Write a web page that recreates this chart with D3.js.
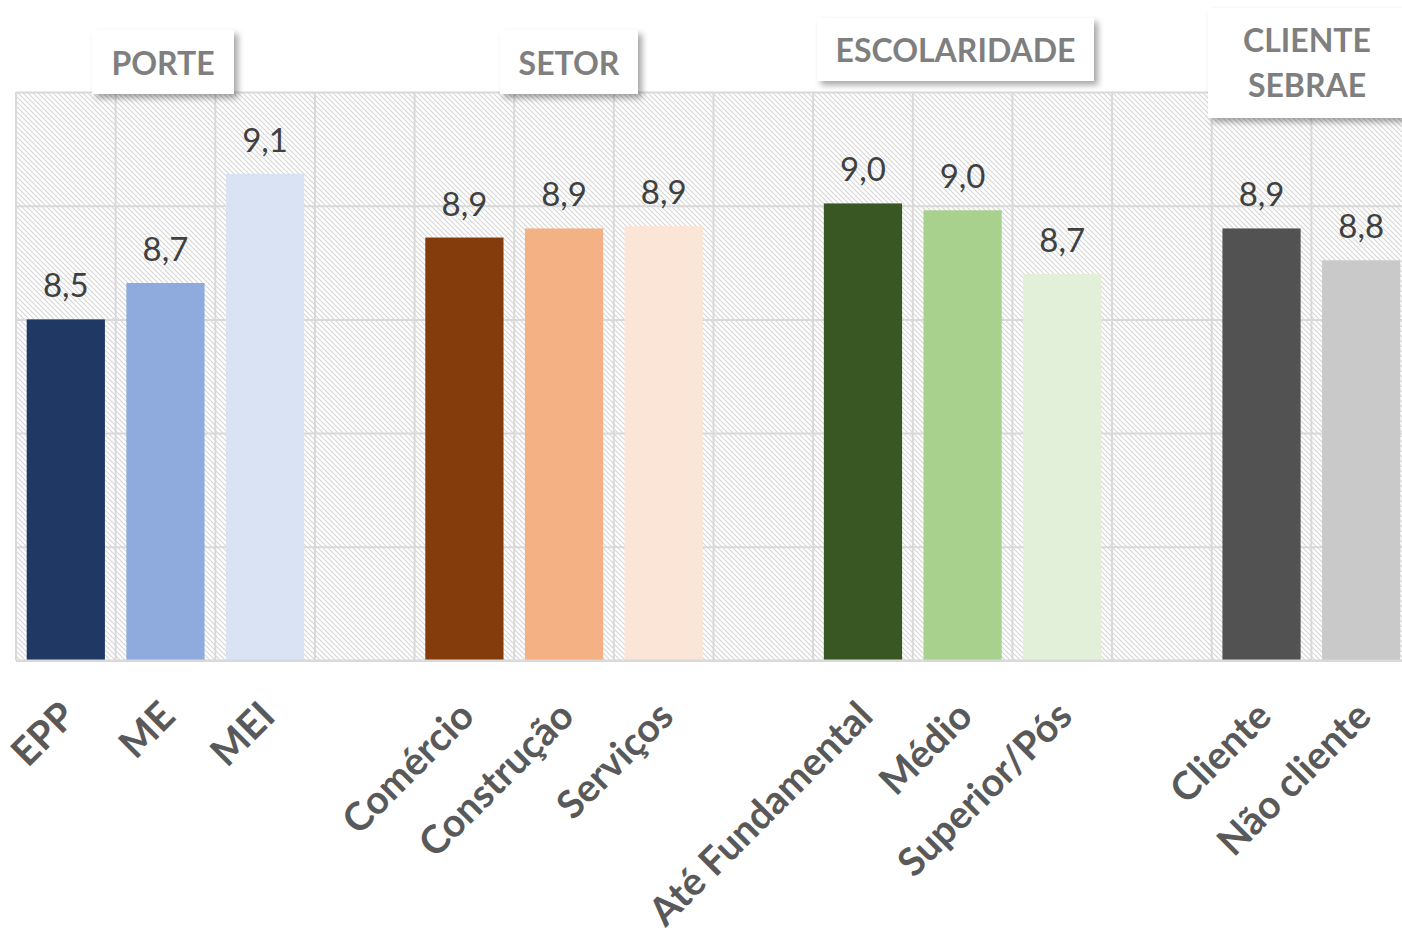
<!DOCTYPE html>
<html lang="pt-BR">
<head>
<meta charset="utf-8">
<title>Nota média por segmento</title>
<script src="https://cdn.jsdelivr.net/npm/d3@7"></script>
<style>
  html, body { margin: 0; padding: 0; background: #ffffff; }
  svg { display: block; }
</style>
</head>
<body>
<svg id="chart" width="1402" height="933"></svg>
<script>
// Segment groups and their categories
const groupNames = ["PORTE", "SETOR", "ESCOLARIDADE", "CLIENTE SEBRAE"];
const porteCats = ["EPP", "ME", "MEI"];
const setorCats = ["Comércio", "Construção", "Serviços"];
const escolaridadeCats = ["Até Fundamental", "Médio", "Superior/Pós"];
const clienteCats = ["Cliente", "Não cliente"];

// Average score per category
const porteValues = [8.50, 8.66, 9.14];
const setorValues = [8.86, 8.90, 8.91];
const escolaridadeValues = [9.01, 8.98, 8.70];
const clienteValues = [8.90, 8.76];

// Bar colours per group
const porteColors = ["#203864", "#8FAADC", "#DAE3F3"];
const setorColors = ["#843C0C", "#F4B183", "#FBE5D6"];
const escolaridadeColors = ["#385723", "#A9D18E", "#E2F0D9"];
const clienteColors = ["#525252", "#C9C9C9"];

// Value axis gridlines
const yTicks = [7.0, 7.5, 8.0, 8.5, 9.0, 9.5];

const groupCats = [porteCats, setorCats, escolaridadeCats, clienteCats];
const groupValues = [porteValues, setorValues, escolaridadeValues, clienteValues];
const groupColors = [porteColors, setorColors, escolaridadeColors, clienteColors];

// Build one slot per category, with an empty slot between groups
const slots = [];
const bars = [];
groupCats.forEach((cats, g) => {
  cats.forEach((c, i) => {
    const key = "s" + slots.length;
    slots.push(key);
    bars.push({ key, label: c, value: groupValues[g][i], color: groupColors[g][i], group: g });
  });
  if (g < groupCats.length - 1) slots.push("s" + slots.length);
});

const svg = d3.select("#chart");
const plotLeft = 16, plotRight = 1411, plotTop = 92, plotBottom = 660.5;

const x = d3.scaleBand().domain(slots).range([plotLeft, plotRight]).padding(0);
const y = d3.scaleLinear().domain([7, 9.5]).range([plotBottom, plotTop]);

const ptBR = d3.formatLocale({ decimal: ",", thousands: ".", grouping: [3], currency: ["R$", ""] });
const fmt = ptBR.format(".1f");

const defs = svg.append("defs");

// Diagonal hatch for the plot background
const hatch = defs.append("pattern")
  .attr("id", "hatch")
  .attr("patternUnits", "userSpaceOnUse")
  .attr("width", 5).attr("height", 5);
hatch.append("rect").attr("width", 5).attr("height", 5).attr("fill", "#ffffff");
hatch.append("path")
  .attr("d", "M-1,-1 L6,6 M-1,4 L1,6 M4,-1 L6,1")
  .attr("stroke", "#d6d6d6").attr("stroke-width", 1.1);

// Soft shadow for group header boxes
const shadow = defs.append("filter")
  .attr("id", "shadow")
  .attr("x", "-20%").attr("y", "-30%").attr("width", "150%").attr("height", "180%");
shadow.append("feDropShadow")
  .attr("dx", 4).attr("dy", 4).attr("stdDeviation", 3)
  .attr("flood-color", "#000").attr("flood-opacity", 0.35);

// Plot background
svg.append("rect")
  .attr("x", plotLeft).attr("y", plotTop)
  .attr("width", plotRight - plotLeft).attr("height", plotBottom - plotTop)
  .attr("fill", "url(#hatch)");

// Horizontal gridlines
const yAxis = d3.axisLeft(y).tickValues(yTicks).tickSize(-(plotRight - plotLeft)).tickFormat("");
const gy = svg.append("g").attr("transform", `translate(${plotLeft},0)`).call(yAxis);
gy.select(".domain").remove();
gy.selectAll(".tick line").attr("stroke", "#d9d9d9").attr("stroke-width", 2);

// Vertical slot separators
svg.append("g").selectAll("line")
  .data(slots)
  .join("line")
  .attr("x1", d => x(d)).attr("x2", d => x(d))
  .attr("y1", plotTop).attr("y2", plotBottom)
  .attr("stroke", "#d9d9d9").attr("stroke-width", 2);

// Bars
const barW = x.bandwidth() * 0.785;
const barOff = (x.bandwidth() - barW) / 2;
svg.append("g").selectAll("rect")
  .data(bars)
  .join("rect")
  .attr("x", d => x(d.key) + barOff)
  .attr("y", d => y(d.value))
  .attr("width", barW)
  .attr("height", d => y(7) - y(d.value))
  .attr("fill", d => d.color);

// Baseline
svg.append("line")
  .attr("x1", plotLeft).attr("x2", plotRight)
  .attr("y1", y(7)).attr("y2", y(7))
  .attr("stroke", "#d9d9d9").attr("stroke-width", 2);

// Value labels
svg.append("g").selectAll("text")
  .data(bars)
  .join("text")
  .attr("x", d => x(d.key) + x.bandwidth() / 2)
  .attr("y", d => y(d.value) - 22)
  .attr("text-anchor", "middle")
  .attr("font-family", "Lato, 'Open Sans', sans-serif")
  .attr("font-size", 33)
  .attr("fill", "#404040")
  .text(d => fmt(d.value));

// Category axis with rotated labels
const labelByKey = new Map(bars.map(b => [b.key, b.label]));
const xAxis = d3.axisBottom(x)
  .tickValues(bars.map(b => b.key))
  .tickSize(0)
  .tickFormat(k => labelByKey.get(k));
const gx = svg.append("g").attr("transform", `translate(0,${plotBottom})`).call(xAxis);
gx.select(".domain").remove();
gx.selectAll(".tick text")
  .attr("x", 12).attr("y", 58).attr("dy", 0)
  .attr("text-anchor", "end")
  .attr("transform", "rotate(-45 12 58)")
  .attr("font-family", "Lato, 'Open Sans', sans-serif")
  .attr("font-weight", "bold")
  .attr("font-size", 39)
  .attr("fill", "#595959");

// Group header boxes
const headerLayout = [
  { x0: 92, x1: 234, y0: 30, y1: 94, base: 75 },
  { x0: 500, x1: 638, y0: 30, y1: 94, base: 75 },
  { x0: 817, x1: 1094, y0: 18, y1: 81, base: 62 },
  { x0: 1208, x1: 1410, y0: 8, y1: 118, base: 52, cx: 1307 }
];
const headers = svg.append("g").selectAll("g")
  .data(groupNames)
  .join("g");
headers.append("rect")
  .attr("x", (d, i) => headerLayout[i].x0)
  .attr("y", (d, i) => headerLayout[i].y0)
  .attr("width", (d, i) => headerLayout[i].x1 - headerLayout[i].x0)
  .attr("height", (d, i) => headerLayout[i].y1 - headerLayout[i].y0)
  .attr("fill", "#ffffff")
  .attr("filter", "url(#shadow)");
headers.each(function (d, i) {
  const L = headerLayout[i];
  const cx = L.cx !== undefined ? L.cx : (L.x0 + L.x1) / 2;
  const t = d3.select(this).append("text")
    .attr("text-anchor", "middle")
    .attr("font-family", "Lato, 'Open Sans', sans-serif")
    .attr("font-weight", "bold")
    .attr("font-size", 32)
    .attr("fill", "#7f7f7f");
  d.split(" ").forEach((w, j) => {
    t.append("tspan").attr("x", cx).attr("y", L.base + j * 45).text(w);
  });
});
</script>
</body>
</html>
